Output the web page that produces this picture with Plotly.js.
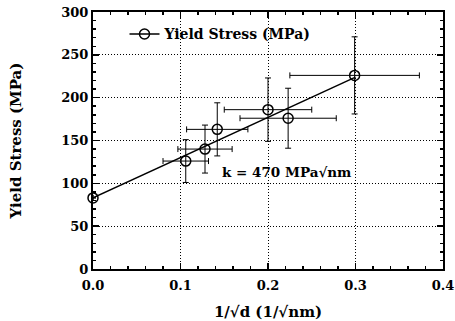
<!DOCTYPE html>
<html>
<head>
<meta charset="utf-8">
<script src="https://cdn.plot.ly/plotly-3.0.1.min.js"></script>
<style>html,body{margin:0;padding:0;background:#fff;}#chart{width:455px;height:321px;}</style>
</head>
<body>
<div id="chart"></div>
<script>
var invSqrtD = [0.0, 0.106, 0.128, 0.142, 0.200, 0.223, 0.299];
var yieldStress = [83, 126, 140, 163, 186, 176, 226];
var errX = [0, 0.026, 0.031, 0.035, 0.050, 0.055, 0.074];
var errY = [0, 25, 28, 31, 37, 35, 45];
var fitX = [0.0, 0.3];
var fitY = [83, 224];
var xTicks = [0, 0.1, 0.2, 0.3, 0.4];
var xTickText = ['0.0', '0.1', '0.2', '0.3', '0.4'];
var yTicks = [0, 50, 100, 150, 200, 250, 300];

var FONT = 'DejaVu Serif, Liberation Serif, serif';

var traces = [
  {x: fitX, y: fitY, mode: 'lines', line: {color: '#000', width: 1.5}, showlegend: false, hoverinfo: 'skip', cliponaxis: false},
  {x: invSqrtD, y: yieldStress, mode: 'markers', showlegend: false, cliponaxis: false,
   marker: {symbol: 'circle-open', size: 10, color: '#000', line: {width: 1.5, color: '#000'}},
   error_x: {type: 'data', array: errX, color: '#000', thickness: 1, width: 3},
   error_y: {type: 'data', array: errY, color: '#000', thickness: 1, width: 3}},
  {x: [null], y: [null], mode: 'lines+markers', name: '<b>Yield Stress (MPa)</b>',
   line: {color: '#000', width: 1.5},
   marker: {symbol: 'circle-open', size: 10, color: '#000', line: {width: 1.5, color: '#000'}}}
];

var axisCommon = {
  showline: true, linecolor: '#000', linewidth: 2, mirror: 'allticks',
  ticks: 'inside', ticklen: 6, tickwidth: 1.5, tickcolor: '#000',
  showgrid: true, gridcolor: '#000', gridwidth: 1, griddash: '1px,2px',
  zeroline: false, ticklabeloverflow: 'allow',
  tickfont: {family: FONT, size: 13, color: '#000', weight: 'bold'}
};

var layout = {
  width: 455, height: 321,
  margin: {l: 93, r: 12, t: 12, b: 52},
  paper_bgcolor: '#fff', plot_bgcolor: '#fff',
  font: {family: FONT, color: '#000'},
  xaxis: Object.assign({}, axisCommon, {
    range: [0, 0.4], tickvals: xTicks, ticktext: xTickText, ticklabelstandoff: 3,
    minor: {dtick: 0.02, ticks: 'inside', ticklen: 3, tickwidth: 1.5, tickcolor: '#000', showgrid: false},
    title: {text: '<b>1/√d (1/√nm)</b>', font: {family: FONT, size: 15, color: '#000'}, standoff: 16}
  }),
  yaxis: Object.assign({}, axisCommon, {
    range: [0, 300], tickvals: yTicks,
    minor: {dtick: 10, ticks: 'inside', ticklen: 3, tickwidth: 1.5, tickcolor: '#000', showgrid: false},
    title: {text: '<b>Yield Stress (MPa)</b>', font: {family: FONT, size: 15, color: '#000'}, standoff: 36}
  }),
  legend: {x: 0.09, y: 0.975, xanchor: 'left', yanchor: 'top', bgcolor: 'rgba(255,255,255,0)',
    font: {family: FONT, size: 14, color: '#000'}},
  annotations: [
    {x: 0.145, y: 113, xref: 'x', yref: 'y', xanchor: 'left', yanchor: 'middle',
     text: '<b>k = 470 MPa√nm</b>', showarrow: false,
     font: {family: FONT, size: 13.5, color: '#000'}}
  ]
};

Plotly.newPlot('chart', traces, layout, {staticPlot: true, displayModeBar: false});
</script>
</body>
</html>
